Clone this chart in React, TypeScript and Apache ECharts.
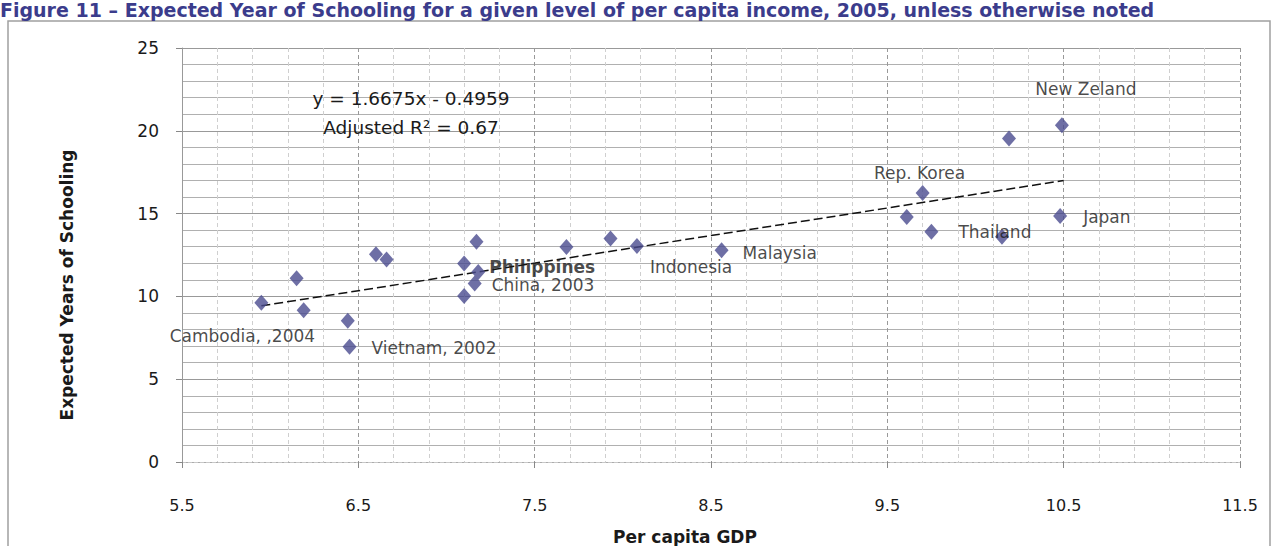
import React, { useEffect, useRef } from "react";
import * as echarts from "echarts";

const titleText =
  "Figure 11 – Expected Year of Schooling for a given level of per capita income, 2005, unless otherwise noted";
const xAxisName = "Per capita GDP";
const yAxisName = "Expected Years of Schooling";

const gdp = [5.95, 6.15, 6.19, 6.44, 6.45, 6.6, 6.66, 7.1, 7.1, 7.17, 7.18, 7.16, 7.68, 7.93, 8.08, 8.56, 9.61, 9.7, 9.75, 10.15, 10.19, 10.49, 10.48];
const schooling = [9.61, 11.09, 9.17, 8.53, 6.96, 12.55, 12.23, 11.99, 10.02, 13.3, 11.48, 10.78, 12.99, 13.5, 13.04, 12.79, 14.8, 16.25, 13.9, 13.6, 19.53, 20.34, 14.85];
const pointLabels = ["Cambodia, ,2004", "", "", "", "Vietnam, 2002", "", "", "", "", "", "Philippines", "China, 2003", "", "", "Indonesia", "Malaysia", "", "Rep. Korea", "Thailand", "", "", "New Zeland", "Japan"];

const trendX = [5.95, 10.5];
const trendY = [9.43, 17.0];
const equationLines = ["y = 1.6675x - 0.4959", "Adjusted R\u00b2 = 0.67"];

const xMin = 5.5;
const xMax = 11.5;
const yMin = 0;
const yMax = 25;

const labelPlacement: Record<string, { align: string; offset: number[]; fontWeight?: string }> = {
  "Cambodia, ,2004": { align: "center", offset: [-19, 33] },
  "Vietnam, 2002": { align: "left", offset: [22, 1] },
  Philippines: { align: "left", offset: [11, -5], fontWeight: "bold" },
  "China, 2003": { align: "left", offset: [17, 2] },
  Indonesia: { align: "left", offset: [13, 21] },
  Malaysia: { align: "left", offset: [21, 3] },
  "Rep. Korea": { align: "center", offset: [-3, -20] },
  Thailand: { align: "left", offset: [27, 0] },
  "New Zeland": { align: "center", offset: [24, -36] },
  Japan: { align: "left", offset: [23, 1] },
};

const FONT = "DejaVu Sans";

export default function App() {
  const ref = useRef<HTMLDivElement>(null);
  useEffect(() => {
    const chart = echarts.init(ref.current!, undefined, { renderer: "svg" });
    const points = gdp.map((x, i) => {
      const name = pointLabels[i];
      const item: any = { value: [x, schooling[i]] };
      if (name) {
        const p = labelPlacement[name];
        item.label = {
          show: true,
          formatter: name,
          position: "inside",
          align: p.align,
          verticalAlign: "middle",
          offset: p.offset,
          fontFamily: FONT,
          fontSize: 17,
          fontWeight: p.fontWeight || "normal",
          color: "#1a1a1a",
        };
      }
      return item;
    });
    chart.setOption({
      animation: false,
      backgroundColor: "#fff",
      grid: { left: 182, right: 36, top: 48, bottom: 84 },
      xAxis: {
        type: "value",
        min: xMin,
        max: xMax,
        interval: 1,
        axisLine: { show: true, onZero: false, lineStyle: { color: "#c8c8c8", type: "dashed" } },
        axisTick: { show: true, length: 6, lineStyle: { color: "#888" } },
        axisLabel: {
          margin: 35,
          fontFamily: FONT,
          fontSize: 16,
          color: "#1a1a1a",
          formatter: (v: number) => v.toFixed(1),
        },
        splitLine: { show: true, lineStyle: { color: "#999", type: [4, 3], width: 1 } },
        minorTick: { show: false, splitNumber: 5 },
        minorSplitLine: { show: true, lineStyle: { color: "#cfcfcf", type: [4, 3], width: 1 } },
      },
      yAxis: {
        type: "value",
        min: yMin,
        max: yMax,
        interval: 5,
        axisLine: { show: true, lineStyle: { color: "#999" } },
        axisTick: { show: true, length: 6, lineStyle: { color: "#888" } },
        axisLabel: { margin: 23, fontFamily: FONT, fontSize: 17, color: "#1a1a1a" },
        splitLine: { show: true, lineStyle: { color: "#999", width: 1 } },
        minorTick: { show: false, splitNumber: 5 },
        minorSplitLine: { show: true, lineStyle: { color: "#b0b0b0", width: 1 } },
      },
      series: [
        {
          type: "line",
          data: trendX.map((x, i) => [x, trendY[i]]),
          showSymbol: false,
          symbol: "none",
          lineStyle: { color: "#111", width: 1.5, type: [9, 4] },
          z: 3,
          silent: true,
        },
        {
          type: "scatter",
          data: points,
          symbol: "diamond",
          symbolSize: [14, 16],
          itemStyle: { color: "#4a4b8e" },
          z: 4,
        },
      ],
      graphic: [
        {
          type: "rect",
          shape: { x: 8, y: 21, width: 1262, height: 560 },
          style: { fill: "none", stroke: "#a0a0a0", lineWidth: 1.5 },
          silent: true,
          z: -1,
        },
        {
          type: "text",
          x: 0,
          y: 0,
          style: {
            text: titleText,
            fontFamily: FONT,
            fontSize: 19,
            fontWeight: "bold",
            fill: "#3b3c8c",
            align: "left",
            verticalAlign: "top",
          },
        },
        {
          type: "text",
          x: 67,
          y: 285,
          rotation: Math.PI / 2,
          style: {
            text: yAxisName,
            fontFamily: FONT,
            fontSize: 17,
            fontWeight: "bold",
            fill: "#1a1a1a",
            align: "center",
            verticalAlign: "middle",
          },
        },
        {
          type: "text",
          x: 685,
          y: 537,
          style: {
            text: xAxisName,
            fontFamily: FONT,
            fontSize: 17,
            fontWeight: "bold",
            fill: "#1a1a1a",
            align: "center",
            verticalAlign: "middle",
          },
        },
        {
          type: "text",
          x: 411,
          y: 98,
          style: {
            text: equationLines[0],
            fontFamily: FONT,
            fontSize: 18.5,
            fill: "#1a1a1a",
            align: "center",
            verticalAlign: "middle",
          },
          z: 10,
        },
        {
          type: "text",
          x: 411,
          y: 127,
          style: {
            text: equationLines[1],
            fontFamily: FONT,
            fontSize: 18.5,
            fill: "#1a1a1a",
            align: "center",
            verticalAlign: "middle",
          },
          z: 10,
        },
      ],
    });
    return () => chart.dispose();
  }, []);
  return (
    <div
      ref={ref}
      style={{ position: "absolute", left: 0, top: 0, width: 1276, height: 546 }}
    />
  );
}
